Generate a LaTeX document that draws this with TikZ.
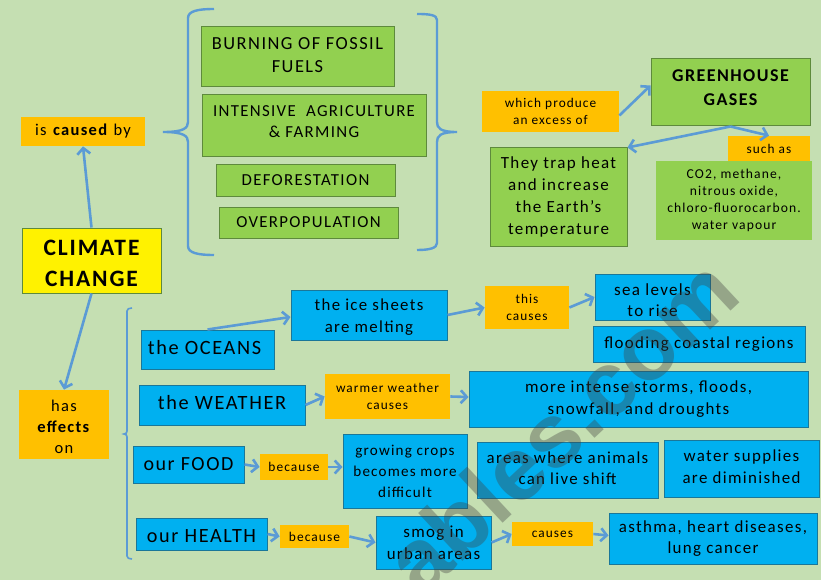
\documentclass[tikz,border=0pt]{standalone}
\usepackage{fontspec}
\setmainfont[LetterSpace=8]{Carlito}
\newfontfamily\markfont{Liberation Sans}
\usetikzlibrary{arrows.meta}
\definecolor{pagegreen}{HTML}{C5DFB2}
\definecolor{leafgreen}{HTML}{92D050}
\definecolor{leafedge}{HTML}{5E8A3C}
\definecolor{skyblue}{HTML}{00B0F0}
\definecolor{skyedge}{HTML}{1A7799}
\definecolor{amber}{HTML}{FFC000}
\definecolor{linkblue}{HTML}{5B9BD5}
\tikzset{every picture/.style={line width=0.75pt}}
\tikzset{
  box/.style={rectangle, inner sep=0pt, align=center},
  greenbox/.style={box, fill=leafgreen, draw=leafedge, line width=1pt},
  bluebox/.style={box, fill=skyblue, draw=skyedge, line width=1pt},
  amberbox/.style={box, fill=amber},
  boxtext/.style={inner sep=0pt, align=center},
  size/.style 2 args={font=\fontsize{#1}{#2}\selectfont},
  boldsize/.style 2 args={font=\fontsize{#1}{#2}\selectfont\bfseries},
  link/.style={draw=linkblue, line width=2.6pt, -{Straight Barb[length=6pt,width=13pt]}},
  bracket/.style={draw=linkblue, line width=2.4pt}
}

\begin{document}
\begin{tikzpicture}[x=1pt,y=1pt,yscale=-1,xscale=1]
    \useasboundingbox (0,0) rectangle (821,580);
    \fill [pagegreen] (0,0) rectangle (821,580);
    % left column
    \node (climate) [box, fill=yellow, draw=leafedge, line width=1pt, minimum width=139pt, minimum height=65pt] at (91.5,260.5) {};
    \node (climatetext) [boxtext, yshift=-3pt, boldsize={23.5}{31}] at (climate) {CLIMATE\\CHANGE};
    \node (caused) [amberbox, minimum width=124pt, minimum height=29pt, size={16.5}{18}] at (83,131.5) {is \textbf{caused} by};
    \node (has) [amberbox, minimum width=90pt, minimum height=69pt] at (64,424.5) {};
    \node (hastext) [boxtext, yshift=-2pt, size={16.5}{21}] at (has) {has\\\textbf{effects}\\on};
    % causes
    \node (burning) [greenbox, minimum width=193pt, minimum height=60pt] at (297.5,57) {};
    \node (burningtext) [boxtext, yshift=2pt, size={18.4}{23.5}] at (burning) {BURNING OF FOSSIL\\FUELS};
    \node (intensive) [greenbox, minimum width=224pt, minimum height=62pt] at (314,126) {};
    \node (intensivetext) [boxtext, yshift=4.5pt, size={16.8}{21.5}] at (intensive) {INTENSIVE~ AGRICULTURE\\\& FARMING};
    \node (deforestation) [greenbox, minimum width=179pt, minimum height=31pt, size={16.8}{20}] at (305.5,180.5) {DEFORESTATION};
    \node (overpopulation) [greenbox, minimum width=179pt, minimum height=31pt, size={16.8}{20}] at (308.5,222.5) {OVERPOPULATION};
    % greenhouse side
    \node (produce) [amberbox, minimum width=137pt, minimum height=41pt, size={13.3}{17}] at (550.5,111.5) {which produce\\an excess of};
    \node (greenhouse) [greenbox, minimum width=159pt, minimum height=67pt] at (730.5,92.5) {};
    \node (greenhousetext) [boxtext, yshift=5pt, boldsize={18}{24}] at (greenhouse) {GREENHOUSE\\GASES};
    \node (trap) [greenbox, minimum width=137pt, minimum height=98pt, size={17}{22}] at (558.5,197) {They trap heat\\and increase\\the Earth’s\\temperature};
    \node (suchas) [amberbox, minimum width=82pt, minimum height=26pt, size={13.3}{16}] at (769,149) {such as};
    \node (gases) [box, fill=leafgreen, minimum width=156pt, minimum height=79pt, size={13.6}{17}] at (734,200.5) {CO2, methane,\\nitrous oxide,\\chloro-fluorocarbon.\\water vapour};
    % effects
    \node (oceans) [bluebox, minimum width=133pt, minimum height=39pt] at (207.5,349.5) {};
    \node (oceanstext) [boxtext, xshift=-3pt, yshift=2pt, size={20.3}{25}] at (oceans) {the OCEANS};
    \node (ice) [bluebox, minimum width=156pt, minimum height=50pt] at (369,315) {};
    \node (icetext) [boxtext, yshift=-2pt, size={16.8}{21.5}] at (ice) {the ice sheets\\are melting};
    \node (thiscauses) [amberbox, minimum width=84pt, minimum height=43pt, size={13.3}{17}] at (527,307.5) {this\\causes};
    \node (sea) [bluebox, minimum width=115pt, minimum height=46pt] at (652.5,297) {};
    \node (seatext) [boxtext, yshift=-3pt, size={17}{21.5}] at (sea) {sea levels\\to rise};
    \node (flooding) [bluebox, minimum width=212pt, minimum height=36pt, size={16.9}{20}] at (699,344) {flooding coastal regions};
    \node (weather) [bluebox, minimum width=166pt, minimum height=40pt] at (222,405) {};
    \node (weathertext) [boxtext, yshift=2pt, size={20.3}{26}] at (weather) {the WEATHER};
    \node (warmer) [amberbox, minimum width=125pt, minimum height=45pt, size={13.3}{17}] at (387.5,396.5) {warmer weather\\causes};
    \node (storms) [bluebox, minimum width=339pt, minimum height=56pt, size={16.9}{21.5}] at (638.5,399) {more intense storms, floods,\\snowfall, and droughts};
    \node (food) [bluebox, minimum width=111pt, minimum height=37pt, size={20}{25}] at (188.5,464.5) {our FOOD};
    \node (because) [amberbox, minimum width=68pt, minimum height=26pt, size={13.4}{16}] at (294,467) {because};
    \node (crops) [bluebox, minimum width=124pt, minimum height=74pt, size={15.1}{21}] at (405,471) {growing crops\\becomes more\\difficult};
    \node (animals) [bluebox, minimum width=181pt, minimum height=56pt] at (567.5,470) {};
    \node (animalstext) [boxtext, yshift=2pt, size={16.8}{21.5}] at (animals) {areas where animals\\can live shift};
    \node (water) [bluebox, minimum width=155pt, minimum height=57pt] at (741.5,468.5) {};
    \node (watertext) [boxtext, yshift=2pt, size={16.9}{21.5}] at (water) {water supplies\\are diminished};
    \node (health) [bluebox, minimum width=131pt, minimum height=32pt] at (201.5,534) {};
    \node (healthtext) [boxtext, yshift=-2pt, size={20.2}{25}] at (health) {our HEALTH};
    \node (becausetwo) [amberbox, minimum width=69pt, minimum height=23pt, size={13.4}{16}] at (314.5,536.5) {because};
    \node (smog) [bluebox, minimum width=115pt, minimum height=53pt, size={16.9}{21.5}] at (433.5,542.5) {smog in\\urban areas};
    \node (causes) [amberbox, minimum width=81pt, minimum height=24pt, size={13.3}{16}] at (552.5,534) {causes};
    \node (asthma) [bluebox, minimum width=208pt, minimum height=51pt, size={16.9}{21.5}] at (713,538.5) {asthma, heart diseases,\\lung cancer};
    % brackets
    \draw [bracket] (214,9) .. controls (198,9) and (188,11) .. (188,18) -- (188,122) .. controls (188,128) and (184,132) .. (163,132) .. controls (184,132) and (188,136) .. (188,142) -- (188,246) .. controls (188,253) and (198,255) .. (214,255) ;
    \draw [bracket] (417,14) .. controls (430,14) and (437,15) .. (437,20) -- (437,122) .. controls (437,128) and (440,132) .. (457,132) .. controls (440,132) and (437,136) .. (437,142) -- (437,243) .. controls (437,248) and (430,250) .. (417,250) ;
    \draw [draw=linkblue, line width=1.6pt] (132,308) .. controls (129,308) and (127,309) .. (127,311) -- (127,431) .. controls (127,433) and (126,434) .. (124,434) .. controls (126,434) and (127,435) .. (127,437) -- (127,556) .. controls (127,558) and (129,559) .. (132,559) ;
    % arrows
    \draw [link] (climate.north) -- (caused.south);
    \draw [link] (climate.south) -- (has.north);
    \draw [link] ([yshift=4pt]produce.east) -- ([yshift=-7pt]greenhouse.west);
    \draw [link] (greenhouse.south) -- (trap.north east);
    \draw [link] (greenhouse.south) -- (suchas.north);
    \draw [link] (oceans.north) -- ([yshift=2pt]ice.west);
    \draw [link] (ice.east) -- (thiscauses.west);
    \draw [link] (thiscauses.east) -- (sea.west);
    \draw [link] (weather.east) -- (warmer.west);
    \draw [link] (warmer.east) -- ([yshift=-2pt]storms.west);
    \draw [link] (food.east) -- (because.west);
    \draw [link] (because.east) -- ([yshift=-4pt]crops.west);
    \draw [link] (health.east) -- (becausetwo.west);
    \draw [link] (becausetwo.east) -- (smog.west);
    \draw [link] (smog.east) -- (causes.west);
    \draw [link] (causes.east) -- ([yshift=-3pt]asthma.west);
    % site mark across the lower half
    \node (sitemark) [inner sep=0pt, rotate=43, anchor=south east, text=black!75, opacity=0.36, font=\fontsize{90}{90}\selectfont\markfont\bfseries] at (745,300) {ables.com};
\end{tikzpicture}
\end{document}
